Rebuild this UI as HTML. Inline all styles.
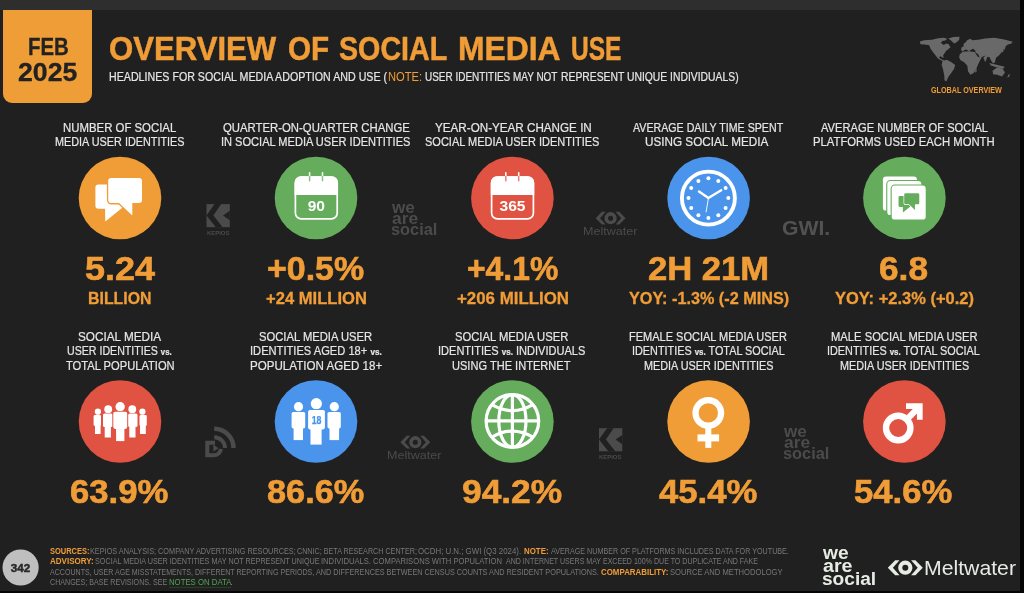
<!DOCTYPE html>
<html lang="en">
<head>
<meta charset="utf-8">
<title>Overview of Social Media Use - Feb 2025</title>
<style>
html,body{margin:0;padding:0;background:#050505;}
body{width:1024px;height:593px;overflow:hidden;position:relative;font-family:"Liberation Sans",Arial,sans-serif;}
#slide{filter:blur(0.4px);position:absolute;left:0;top:0;width:1020.4px;height:591px;background:#202020;overflow:hidden;}
#topbar{position:absolute;left:0;top:0;width:1020.4px;height:9.6px;background:#2e2e2e;}
#badge{position:absolute;left:2.6px;top:9.6px;width:89.8px;height:93.1px;background:#ef9d36;border-radius:0 0 9px 9px;}
#art{position:absolute;left:0;top:0;will-change:transform;}
#txt{position:absolute;left:0;top:0;width:1024px;height:593px;will-change:transform;}
#txt h1,#txt h2,#txt p{margin:0;padding:0;font:inherit;}
.t{display:block;position:absolute;white-space:nowrap;line-height:1;transform-origin:0 50%;font-family:"Liberation Sans",Arial,sans-serif;}
svg text{font-family:"Liberation Sans",Arial,sans-serif;}
</style>
</head>
<body>
<div id="slide">
<div id="topbar"></div>
<div id="badge"></div>
<svg id="art" width="1024" height="593" viewBox="0 0 1024 593">
<!-- ===== circles ===== -->
<g>
<circle cx="120" cy="198" r="41.3" fill="#f09d37"/>
<circle cx="316" cy="198" r="41.3" fill="#65ad5c"/>
<circle cx="512.4" cy="198" r="41.3" fill="#e05241"/>
<circle cx="708.6" cy="198" r="41.3" fill="#4a94ec"/>
<circle cx="904.4" cy="198" r="41.3" fill="#65ad5c"/>
<circle cx="120" cy="421.5" r="41.3" fill="#e05241"/>
<circle cx="316" cy="421.5" r="41.3" fill="#4a94ec"/>
<circle cx="512.4" cy="421.5" r="41.3" fill="#65ad5c"/>
<circle cx="708.6" cy="421.5" r="41.3" fill="#f09d37"/>
<circle cx="904.4" cy="421.5" r="41.3" fill="#e05241"/>
</g>

<!-- ===== icon 1: chat bubbles ===== -->
<g transform="translate(120,198)" fill="#fff">
  <path d="M-24.6,-10.5 a3,3 0 0 1 3,-3 H2 V10 L-14.7,23.6 L-15,10.8 H-21.6 a3,3 0 0 1 -3,-3z"/>
  <path d="M-8.8,-20 H19 a3,3 0 0 1 3,3 V2.1 a3,3 0 0 1 -3,3 H12.3 V17.6 L-1,5.1 H-8.8 a3,3 0 0 1 -3,-3 V-17 a3,3 0 0 1 3,-3z" stroke="#f09d37" stroke-width="2.6" style="paint-order:stroke"/>
</g>

<!-- ===== icon 2: calendar 90 ===== -->
<g transform="translate(316.3,198)">
  <rect x="-20.9" y="-20.9" width="41.8" height="41.8" rx="5.8" fill="none" stroke="#fff" stroke-width="1.7"/>
  <path d="M-21.75,-3.1 v-12.3 a6.4,6.4 0 0 1 6.4,-6.4 h30.7 a6.4,6.4 0 0 1 6.4,6.4 v12.3z" fill="#fff"/>
  <path d="M-6.7,-25.3 v4 M6.2,-25.3 v4" stroke="#fff" stroke-width="1.6" stroke-linecap="round"/>
  <path d="M-6.7,-21.4 v4.2 M6.2,-21.4 v4.2" stroke="#65ad5c" stroke-width="1.5" stroke-linecap="round" opacity="0.75"/>
  <text x="0" y="13.3" font-size="14.6" font-weight="700" fill="#fff" text-anchor="middle" textLength="17.3" lengthAdjust="spacingAndGlyphs">90</text>
</g>

<!-- ===== icon 3: calendar 365 ===== -->
<g transform="translate(512.5,198)">
  <rect x="-20.9" y="-20.9" width="41.8" height="41.8" rx="5.8" fill="none" stroke="#fff" stroke-width="1.7"/>
  <path d="M-21.75,-3.1 v-12.3 a6.4,6.4 0 0 1 6.4,-6.4 h30.7 a6.4,6.4 0 0 1 6.4,6.4 v12.3z" fill="#fff"/>
  <path d="M-6.7,-25.3 v4 M6.2,-25.3 v4" stroke="#fff" stroke-width="1.6" stroke-linecap="round"/>
  <path d="M-6.7,-21.4 v4.2 M6.2,-21.4 v4.2" stroke="#e05241" stroke-width="1.5" stroke-linecap="round" opacity="0.75"/>
  <text x="0" y="13.3" font-size="14.6" font-weight="700" fill="#fff" text-anchor="middle" textLength="26" lengthAdjust="spacingAndGlyphs">365</text>
</g>

<!-- ===== icon 4: clock ===== -->
<g transform="translate(708.4,198.1)">
  <circle r="26.5" fill="none" stroke="#fff" stroke-width="3.9"/>
  <g fill="#fff"><circle cx="0.0" cy="-19.9" r="2"/><circle cx="9.9" cy="-17.2" r="2"/><circle cx="17.2" cy="-10.0" r="2"/><circle cx="19.9" cy="-0.0" r="2"/><circle cx="17.2" cy="9.9" r="2"/><circle cx="9.9" cy="17.2" r="2"/><circle cx="0.0" cy="19.9" r="2"/><circle cx="-10.0" cy="17.2" r="2"/><circle cx="-17.2" cy="10.0" r="2"/><circle cx="-19.9" cy="0.0" r="2"/><circle cx="-17.2" cy="-10.0" r="2"/><circle cx="-10.0" cy="-17.2" r="2"/></g>
  <path d="M-9.4,-6.6 L0,0 L12.8,-7.8" fill="none" stroke="#fff" stroke-width="2.4" stroke-linecap="round" stroke-linejoin="round"/>
  <path d="M0,0 L-2.3,13.8" stroke="#fff" stroke-width="0.9" stroke-linecap="round"/>
</g>

<!-- ===== icon 5: stacked cards ===== -->
<g transform="translate(904.4,198)">
  <rect x="-21.5" y="-21.4" width="34" height="34" rx="3.2" fill="#fff"/>
  <rect x="-17.1" y="-16.9" width="34" height="34" rx="3.2" fill="#fff" stroke="#65ad5c" stroke-width="2.2" style="paint-order:stroke"/>
  <rect x="-12.7" y="-12.4" width="34" height="34" rx="3.2" fill="#fff" stroke="#65ad5c" stroke-width="2.2" style="paint-order:stroke"/>
  <g fill="#65ad5c" transform="translate(5.08,4.1) scale(0.445)">
    <path d="M-24.6,-10.5 a3,3 0 0 1 3,-3 H2 V10 L-14.7,23.6 L-15,10.8 H-21.6 a3,3 0 0 1 -3,-3z"/>
    <path d="M-8.8,-20 H19 a3,3 0 0 1 3,3 V2.1 a3,3 0 0 1 -3,3 H12.3 V17.6 L-1,5.1 H-8.8 a3,3 0 0 1 -3,-3 V-17 a3,3 0 0 1 3,-3z" stroke="#fff" stroke-width="3" style="paint-order:stroke"/>
  </g>
</g>

<!-- ===== icon 6: five people ===== -->
<g transform="translate(120,421.5)" fill="#fff">
  <circle cx="-22.1" cy="-9.8" r="3.1"/><rect x="-26.4" y="-6.4" width="7.4" height="10.8" rx="1.3"/><rect x="-25" y="2" width="5.6" height="10.5"/>
  <circle cx="22.4" cy="-9.8" r="3.1"/><rect x="19.5" y="-6.4" width="7.3" height="10.8" rx="1.3"/><rect x="20" y="2" width="5.8" height="10.5"/>
  <circle cx="-11.8" cy="-12.3" r="3.9"/><rect x="-17" y="-8" width="9.6" height="13.4" rx="1.5"/><rect x="-15.3" y="3" width="6.2" height="13"/>
  <circle cx="12.3" cy="-12.3" r="3.9"/><rect x="8.2" y="-8" width="9.3" height="13.4" rx="1.5"/><rect x="9.3" y="3" width="6.2" height="13"/>
  <circle cx="0.15" cy="-14.8" r="4.7"/><rect x="-6.7" y="-9.8" width="13.9" height="17.2" rx="1.8" stroke="#e05241" stroke-width="1.6" style="paint-order:stroke"/><rect x="-3.9" y="5" width="8.3" height="14.6"/>
</g>

<!-- ===== icon 7: three people 18 ===== -->
<g transform="translate(316,421.5)" fill="#fff">
  <circle cx="-17.5" cy="-14.8" r="4.6"/><rect x="-24.4" y="-9.5" width="13.6" height="16.4" rx="1.6"/><rect x="-22.4" y="5" width="9.4" height="13.6"/>
  <circle cx="18.3" cy="-14.8" r="4.6"/><rect x="11.5" y="-9.5" width="13.3" height="16.4" rx="1.6"/><rect x="13.5" y="5" width="9.6" height="13.6"/>
  <circle cx="0.35" cy="-17.8" r="5.6"/><rect x="-7.9" y="-11.5" width="16.8" height="19.4" rx="1.8" stroke="#4a94ec" stroke-width="1.6" style="paint-order:stroke"/><rect x="-5.5" y="6" width="11.1" height="17.1"/>
  <text x="-4.3" y="2.3" font-size="10.4" font-weight="700" fill="#4a94ec" stroke="#4a94ec" stroke-width="0.25" textLength="9.8" lengthAdjust="spacingAndGlyphs">18</text>
</g>

<!-- ===== icon 8: globe ===== -->
<g transform="translate(512.4,420.9)" fill="none" stroke="#fff" stroke-width="3.2">
  <circle r="26.3"/>
  <ellipse rx="13.6" ry="26.3"/>
  <path d="M0,-26.3 V26.3 M-26.3,0 H26.3"/>
  <path d="M-20.5,-16.2 Q0,-4.2 20.5,-16.2 M-20.5,16.2 Q0,4.2 20.5,16.2"/>
</g>

<!-- ===== icon 9: female ===== -->
<g transform="translate(708.3,421.5)" fill="none" stroke="#fff">
  <circle cx="0" cy="-8.6" r="12.8" stroke-width="6.2"/>
  <path d="M0,6.5 V26.4" stroke-width="6"/>
  <path d="M-10.8,16.4 H10.8" stroke-width="7"/>
</g>

<!-- ===== icon 10: male ===== -->
<g transform="translate(904.4,421.5)" fill="none" stroke="#fff">
  <circle cx="-6.2" cy="6.5" r="12.2" stroke-width="6.4"/>
  <path d="M2.2,-1.9 L15,-14.8" stroke-width="6.2"/>
  <path d="M1.6,-15.4 H15.4 V-1.7" stroke-width="5.7" stroke-linejoin="miter"/>
</g>

<!-- ===== page number ===== -->
<circle cx="20.6" cy="567.5" r="18.1" fill="#bfbfbf"/>
<text x="20.5" y="571.6" font-size="11" font-weight="700" fill="#2a2a2a" stroke="#2a2a2a" stroke-width="0.45" text-anchor="middle" textLength="19.5" lengthAdjust="spacingAndGlyphs">342</text>

<!-- ===== Kepios logos ===== -->
<g id="kepios1" transform="translate(206.5,204.1)">
  <rect width="23.3" height="23.1" fill="#4b4b4b"/>
  <path d="M8.1,0 L14.6,0 L6.9,11.4 L16.2,23.1 L9.3,23.1 L0,11.4z M23.3,6.7 L16.6,11.4 L23.3,16.1z" fill="#202020"/>
</g>
<g id="kepios2" transform="translate(599,428.2)">
  <rect width="23.3" height="23.1" fill="#4b4b4b"/>
  <path d="M8.1,0 L14.6,0 L6.9,11.4 L16.2,23.1 L9.3,23.1 L0,11.4z M23.3,6.7 L16.6,11.4 L23.3,16.1z" fill="#202020"/>
</g>

<!-- ===== Meltwater small (row 1) ===== -->
<g transform="translate(610.6,218.2)"><circle r="4.34" fill="none" stroke="#4b4b4b" stroke-width="3.55"/><polygon points="-14.96,0.00 -8.64,-6.41 -4.96,-6.41 -10.60,0.00 -4.96,6.41 -8.64,6.41" fill="#4b4b4b"/><polygon points="14.96,0.00 8.64,-6.41 4.96,-6.41 10.60,0.00 4.96,6.41 8.64,6.41" fill="#4b4b4b"/></g>
<!-- ===== Meltwater small (row 2) ===== -->
<g transform="translate(415.3,442.2)"><circle r="4.34" fill="none" stroke="#4b4b4b" stroke-width="3.55"/><polygon points="-14.96,0.00 -8.64,-6.41 -4.96,-6.41 -10.60,0.00 -4.96,6.41 -8.64,6.41" fill="#4b4b4b"/><polygon points="14.96,0.00 8.64,-6.41 4.96,-6.41 10.60,0.00 4.96,6.41 8.64,6.41" fill="#4b4b4b"/></g>
<!-- ===== Meltwater footer ===== -->
<g transform="translate(905.3,567.7)"><circle r="5.08" fill="none" stroke="#e6ece4" stroke-width="4.15"/><polygon points="-17.50,0.00 -10.10,-7.50 -5.80,-7.50 -12.40,0.00 -5.80,7.50 -10.10,7.50" fill="#e6ece4"/><polygon points="17.50,0.00 10.10,-7.50 5.80,-7.50 12.40,0.00 5.80,7.50 10.10,7.50" fill="#e6ece4"/></g>

<!-- ===== DataReportal icon ===== -->
<g fill="none" stroke="#4b4b4b">
  <path d="M215,442.7 H207.3 V455.3 H214.2 A6.6,6.6 0 0 0 220.8,448.9" stroke-width="4"/>
  <path d="M214.2,437.2 A10.8,10.8 0 0 1 225,448" stroke-width="4"/>
  <path d="M214.2,428.7 A19.3,19.3 0 0 1 233.5,448" stroke-width="4.5"/>
</g>
<path d="M213.4,444.6 L218.4,448.3 L213.4,451.6z" fill="#4b4b4b"/>

<!-- ===== world map ===== -->
<g transform="translate(912,28) scale(0.12136)" fill="#696969">
  <path d="M65,112 L100,100 L165,96 L215,84 L262,80 L290,88 L275,104 L250,108 L238,124 L262,140 L282,128 L300,132 L318,158 L298,176 L280,190 L268,208 L256,226 L262,246 L250,244 L236,232 L222,240 L240,258 L262,266 L276,276 L262,276 L238,266 L214,252 L196,228 L172,198 L152,168 L142,142 L104,136 L70,134z"/>
  <path d="M300,86 L340,74 L392,72 L388,98 L362,122 L346,128 L326,108z"/>
  <path d="M252,272 L286,262 L322,280 L356,304 L346,338 L322,372 L300,402 L284,438 L268,432 L266,392 L256,342 L244,302z"/>
  <path d="M404,182 L408,160 L426,150 L424,134 L442,120 L452,102 L478,88 L500,100 L540,96 L560,150 L560,200 L530,196 L505,172 L486,180 L470,192 L448,178 L428,184 L420,196z"/>
  <path d="M394,216 L418,196 L470,192 L516,198 L542,236 L572,246 L550,288 L532,330 L508,370 L482,386 L462,358 L456,312 L430,282 L400,266 L388,240z"/>
  <path d="M536,98 L600,86 L680,80 L760,94 L830,114 L816,130 L790,136 L772,150 L764,180 L748,168 L738,200 L716,226 L692,246 L684,282 L668,292 L650,266 L640,240 L622,236 L604,282 L588,246 L606,226 L580,236 L562,252 L546,216 L520,200 L545,150z"/>
  <path d="M636,288 L680,298 L722,308 L764,320 L752,336 L702,326 L650,310z"/>
  <path d="M664,352 L700,326 L746,334 L766,366 L742,400 L702,386 L668,382z"/>
  <path d="M792,388 L806,378 L802,400 L786,412z"/>
  <path d="M742,168 L758,158 L752,196 L738,202z"/>
  <path d="M428,130 L440,118 L444,146 L430,152z"/>
  <path d="M524,338 L534,332 L530,364 L518,366z"/>
</g>
<!-- notes underline -->
<path d="M169.6,587.4 H230.6" stroke="#3f7f3f" stroke-width="0.7" stroke-dasharray="1,1"/>

</svg>
<div id="txt">
<header>
<div class="date">
<span class="t" style="left:27.55px;top:35.27px;font-size:24.06px;font-weight:700;color:#222;-webkit-text-stroke:0.3px #222;transform:scaleX(0.8500)">FEB</span>
<span class="t" style="left:17.54px;top:59.89px;font-size:25.22px;font-weight:700;color:#222;-webkit-text-stroke:0.3px #222;transform:scaleX(1.0564)">2025</span>
</div>
<h1 class="title">
<span class="t" style="left:109.35px;top:32.64px;font-size:32.61px;font-weight:700;color:#f09d37;-webkit-text-stroke:0.5px #f09d37;transform:scaleX(0.9543)">OVERVIEW</span>
<span class="t" style="left:288.09px;top:32.64px;font-size:32.61px;font-weight:700;color:#f09d37;-webkit-text-stroke:0.5px #f09d37;transform:scaleX(0.9070)">OF</span>
<span class="t" style="left:339.42px;top:32.64px;font-size:32.61px;font-weight:700;color:#f09d37;-webkit-text-stroke:0.5px #f09d37;transform:scaleX(0.8787)">SOCIAL</span>
<span class="t" style="left:458.05px;top:32.64px;font-size:32.61px;font-weight:700;color:#f09d37;-webkit-text-stroke:0.5px #f09d37;transform:scaleX(0.9767)">MEDIA</span>
<span class="t" style="left:571.00px;top:32.64px;font-size:32.61px;font-weight:700;color:#f09d37;-webkit-text-stroke:0.5px #f09d37;transform:scaleX(0.7516)">USE</span>
</h1>
<p class="subtitle">
<span class="t" style="left:109.37px;top:70.72px;font-size:12.17px;font-weight:400;color:#e6e6e6;-webkit-text-stroke:0.22px #e6e6e6;transform:scaleX(0.8771)">HEADLINES FOR SOCIAL MEDIA ADOPTION AND USE (</span>
<span class="t" style="left:388.08px;top:70.72px;font-size:12.17px;font-weight:400;color:#f09d37;transform:scaleX(0.9200)">NOTE:</span>
<span class="t" style="left:424.78px;top:70.72px;font-size:12.17px;font-weight:400;color:#e6e6e6;-webkit-text-stroke:0.22px #e6e6e6;transform:scaleX(0.8193)">USER IDENTITIES MAY NOT</span>
<span class="t" style="left:561.35px;top:70.72px;font-size:12.17px;font-weight:400;color:#e6e6e6;-webkit-text-stroke:0.22px #e6e6e6;transform:scaleX(0.8517)">REPRESENT UNIQUE INDIVIDUALS)</span>
</p>
<div class="region">
<span class="t" style="left:930.50px;top:86.45px;font-size:8.7px;font-weight:700;color:#f09d37;transform:scaleX(0.8279)">GLOBAL OVERVIEW</span>
</div>
</header>
<main>
<section class="card">
<h2 class="label">
<span class="t" style="left:63.23px;top:120.68px;font-size:13.04px;font-weight:400;color:#e6e6e6;-webkit-text-stroke:0.22px #e6e6e6;transform:scaleX(0.8742)">NUMBER OF SOCIAL</span>
<span class="t" style="left:55.42px;top:135.08px;font-size:13.04px;font-weight:400;color:#e6e6e6;-webkit-text-stroke:0.22px #e6e6e6;transform:scaleX(0.8321)">MEDIA USER IDENTITIES</span>
</h2>
<div class="value">
<span class="t" style="left:85.02px;top:252.14px;font-size:33.33px;font-weight:700;color:#f09d37;-webkit-text-stroke:0.6px #f09d37;transform:scaleX(1.0797)">5.24</span>
</div>
<div class="unit">
<span class="t" style="left:87.84px;top:290.54px;font-size:16.52px;font-weight:700;color:#f09d37;-webkit-text-stroke:0.3px #f09d37;transform:scaleX(0.9615)">BILLION</span>
</div>
</section>
<section class="card">
<h2 class="label">
<span class="t" style="left:222.80px;top:120.68px;font-size:13.04px;font-weight:400;color:#e6e6e6;-webkit-text-stroke:0.22px #e6e6e6;transform:scaleX(0.8706)">QUARTER-ON-QUARTER CHANGE</span>
<span class="t" style="left:220.75px;top:135.08px;font-size:13.04px;font-weight:400;color:#e6e6e6;-webkit-text-stroke:0.22px #e6e6e6;transform:scaleX(0.8482)">IN SOCIAL MEDIA USER IDENTITIES</span>
</h2>
<div class="value">
<span class="t" style="left:267.48px;top:252.14px;font-size:33.33px;font-weight:700;color:#f09d37;-webkit-text-stroke:0.6px #f09d37;transform:scaleX(1.0181)">+0.5%</span>
</div>
<div class="unit">
<span class="t" style="left:265.80px;top:290.54px;font-size:16.52px;font-weight:700;color:#f09d37;-webkit-text-stroke:0.3px #f09d37;transform:scaleX(1.0040)">+24 MILLION</span>
</div>
</section>
<section class="card">
<h2 class="label">
<span class="t" style="left:434.80px;top:120.68px;font-size:13.04px;font-weight:400;color:#e6e6e6;-webkit-text-stroke:0.22px #e6e6e6;transform:scaleX(0.8948)">YEAR-ON-YEAR CHANGE IN</span>
<span class="t" style="left:424.76px;top:135.08px;font-size:13.04px;font-weight:400;color:#e6e6e6;-webkit-text-stroke:0.22px #e6e6e6;transform:scaleX(0.8444)">SOCIAL MEDIA USER IDENTITIES</span>
</h2>
<div class="value">
<span class="t" style="left:466.84px;top:252.14px;font-size:33.33px;font-weight:700;color:#f09d37;-webkit-text-stroke:0.6px #f09d37;transform:scaleX(0.9564)">+4.1%</span>
</div>
<div class="unit">
<span class="t" style="left:456.90px;top:290.54px;font-size:16.52px;font-weight:700;color:#f09d37;-webkit-text-stroke:0.3px #f09d37;transform:scaleX(1.0211)">+206 MILLION</span>
</div>
</section>
<section class="card">
<h2 class="label">
<span class="t" style="left:633.40px;top:120.68px;font-size:13.04px;font-weight:400;color:#e6e6e6;-webkit-text-stroke:0.22px #e6e6e6;transform:scaleX(0.8174)">AVERAGE DAILY TIME SPENT</span>
<span class="t" style="left:645.40px;top:135.08px;font-size:13.04px;font-weight:400;color:#e6e6e6;-webkit-text-stroke:0.22px #e6e6e6;transform:scaleX(0.8993)">USING SOCIAL MEDIA</span>
</h2>
<div class="value">
<span class="t" style="left:647.96px;top:252.14px;font-size:33.33px;font-weight:700;color:#f09d37;-webkit-text-stroke:0.6px #f09d37;transform:scaleX(1.0386)">2H 21M</span>
</div>
<div class="unit">
<span class="t" style="left:628.75px;top:290.54px;font-size:16.52px;font-weight:700;color:#f09d37;-webkit-text-stroke:0.3px #f09d37;transform:scaleX(0.9825)">YOY: -1.3% (-2 MINS)</span>
</div>
</section>
<section class="card">
<h2 class="label">
<span class="t" style="left:821.20px;top:120.68px;font-size:13.04px;font-weight:400;color:#e6e6e6;-webkit-text-stroke:0.22px #e6e6e6;transform:scaleX(0.8554)">AVERAGE NUMBER OF SOCIAL</span>
<span class="t" style="left:813.23px;top:135.08px;font-size:13.04px;font-weight:400;color:#e6e6e6;-webkit-text-stroke:0.22px #e6e6e6;transform:scaleX(0.8659)">PLATFORMS USED EACH MONTH</span>
</h2>
<div class="value">
<span class="t" style="left:878.74px;top:252.14px;font-size:33.33px;font-weight:700;color:#f09d37;-webkit-text-stroke:0.6px #f09d37;transform:scaleX(1.0578)">6.8</span>
</div>
<div class="unit">
<span class="t" style="left:834.80px;top:290.54px;font-size:16.52px;font-weight:700;color:#f09d37;-webkit-text-stroke:0.3px #f09d37;transform:scaleX(0.9978)">YOY: +2.3% (+0.2)</span>
</div>
</section>
<section class="card">
<h2 class="label">
<span class="t" style="left:78.10px;top:329.78px;font-size:13.04px;font-weight:400;color:#e6e6e6;-webkit-text-stroke:0.22px #e6e6e6;transform:scaleX(0.9011)">SOCIAL MEDIA</span>
<span class="t" style="left:67.29px;top:344.28px;font-size:13.04px;font-weight:400;color:#e6e6e6;-webkit-text-stroke:0.22px #e6e6e6;transform:scaleX(0.8150)">USER IDENTITIES <span style="font-size:.73em;font-weight:700">vs.</span></span>
<span class="t" style="left:66.20px;top:358.78px;font-size:13.04px;font-weight:400;color:#e6e6e6;-webkit-text-stroke:0.22px #e6e6e6;transform:scaleX(0.8556)">TOTAL POPULATION</span>
</h2>
<div class="value">
<span class="t" style="left:70.21px;top:475.24px;font-size:33.33px;font-weight:700;color:#f09d37;-webkit-text-stroke:0.6px #f09d37;transform:scaleX(1.0414)">63.9%</span>
</div>
</section>
<section class="card">
<h2 class="label">
<span class="t" style="left:259.14px;top:329.78px;font-size:13.04px;font-weight:400;color:#e6e6e6;-webkit-text-stroke:0.22px #e6e6e6;transform:scaleX(0.8615)">SOCIAL MEDIA USER</span>
<span class="t" style="left:250.15px;top:344.28px;font-size:13.04px;font-weight:400;color:#e6e6e6;-webkit-text-stroke:0.22px #e6e6e6;transform:scaleX(0.8549)">IDENTITIES AGED 18+ <span style="font-size:.73em;font-weight:700">vs.</span></span>
<span class="t" style="left:250.11px;top:358.78px;font-size:13.04px;font-weight:400;color:#e6e6e6;-webkit-text-stroke:0.22px #e6e6e6;transform:scaleX(0.8898)">POPULATION AGED 18+</span>
</h2>
<div class="value">
<span class="t" style="left:267.47px;top:475.24px;font-size:33.33px;font-weight:700;color:#f09d37;-webkit-text-stroke:0.6px #f09d37;transform:scaleX(1.0290)">86.6%</span>
</div>
</section>
<section class="card">
<h2 class="label">
<span class="t" style="left:455.14px;top:329.78px;font-size:13.04px;font-weight:400;color:#e6e6e6;-webkit-text-stroke:0.22px #e6e6e6;transform:scaleX(0.8631)">SOCIAL MEDIA USER</span>
<span class="t" style="left:438.45px;top:344.28px;font-size:13.04px;font-weight:400;color:#e6e6e6;-webkit-text-stroke:0.22px #e6e6e6;transform:scaleX(0.8468)">IDENTITIES <span style="font-size:.73em;font-weight:700">vs.</span> INDIVIDUALS</span>
<span class="t" style="left:452.15px;top:358.78px;font-size:13.04px;font-weight:400;color:#e6e6e6;-webkit-text-stroke:0.22px #e6e6e6;transform:scaleX(0.8489)">USING THE INTERNET</span>
</h2>
<div class="value">
<span class="t" style="left:461.64px;top:475.24px;font-size:33.33px;font-weight:700;color:#f09d37;-webkit-text-stroke:0.6px #f09d37;transform:scaleX(1.0591)">94.2%</span>
</div>
</section>
<section class="card">
<h2 class="label">
<span class="t" style="left:629.16px;top:329.78px;font-size:13.04px;font-weight:400;color:#e6e6e6;-webkit-text-stroke:0.22px #e6e6e6;transform:scaleX(0.8441)">FEMALE SOCIAL MEDIA USER</span>
<span class="t" style="left:631.87px;top:344.28px;font-size:13.04px;font-weight:400;color:#e6e6e6;-webkit-text-stroke:0.22px #e6e6e6;transform:scaleX(0.8322)">IDENTITIES <span style="font-size:.73em;font-weight:700">vs.</span> TOTAL SOCIAL</span>
<span class="t" style="left:643.57px;top:358.78px;font-size:13.04px;font-weight:400;color:#e6e6e6;-webkit-text-stroke:0.22px #e6e6e6;transform:scaleX(0.8318)">MEDIA USER IDENTITIES</span>
</h2>
<div class="value">
<span class="t" style="left:659.00px;top:475.24px;font-size:33.33px;font-weight:700;color:#f09d37;-webkit-text-stroke:0.6px #f09d37;transform:scaleX(1.0415)">45.4%</span>
</div>
</section>
<section class="card">
<h2 class="label">
<span class="t" style="left:831.14px;top:329.78px;font-size:13.04px;font-weight:400;color:#e6e6e6;-webkit-text-stroke:0.22px #e6e6e6;transform:scaleX(0.8604)">MALE SOCIAL MEDIA USER</span>
<span class="t" style="left:827.37px;top:344.28px;font-size:13.04px;font-weight:400;color:#e6e6e6;-webkit-text-stroke:0.22px #e6e6e6;transform:scaleX(0.8322)">IDENTITIES <span style="font-size:.73em;font-weight:700">vs.</span> TOTAL SOCIAL</span>
<span class="t" style="left:839.87px;top:358.78px;font-size:13.04px;font-weight:400;color:#e6e6e6;-webkit-text-stroke:0.22px #e6e6e6;transform:scaleX(0.8292)">MEDIA USER IDENTITIES</span>
</h2>
<div class="value">
<span class="t" style="left:854.26px;top:475.24px;font-size:33.33px;font-weight:700;color:#f09d37;-webkit-text-stroke:0.6px #f09d37;transform:scaleX(1.0398)">54.6%</span>
</div>
</section>
</main>
<aside class="partners">
<div class="logo">
<span class="t" style="left:206.90px;top:229.83px;font-size:6.0px;font-weight:700;color:#4b4b4b;transform:scaleX(0.9870)">KEPIOS</span>
</div>
<div class="logo">
<span class="t" style="left:392.10px;top:199.14px;font-size:16.4px;font-weight:700;color:#4b4b4b;transform:scaleX(1.0429)">we</span>
<span class="t" style="left:392.10px;top:209.74px;font-size:16.4px;font-weight:700;color:#4b4b4b;transform:scaleX(1.0625)">are</span>
<span class="t" style="left:391.10px;top:220.84px;font-size:16.4px;font-weight:700;color:#4b4b4b;transform:scaleX(0.9978)">social</span>
</div>
<div class="logo">
<span class="t" style="left:582.72px;top:225.30px;font-size:11.6px;font-weight:400;color:#4b4b4b;transform:scaleX(1.0837)">Meltwater</span>
</div>
<div class="logo">
<span class="t" style="left:782.46px;top:217.76px;font-size:20.4px;font-weight:700;color:#525252;transform:scaleX(1.0386)">GWI.</span>
</div>
<div class="logo">
<span class="t" style="left:387.32px;top:449.30px;font-size:11.6px;font-weight:400;color:#4b4b4b;transform:scaleX(1.0837)">Meltwater</span>
</div>
<div class="logo">
<span class="t" style="left:599.40px;top:453.93px;font-size:6.0px;font-weight:700;color:#4b4b4b;transform:scaleX(0.9870)">KEPIOS</span>
</div>
<div class="logo">
<span class="t" style="left:784.10px;top:423.34px;font-size:16.4px;font-weight:700;color:#4b4b4b;transform:scaleX(1.0429)">we</span>
<span class="t" style="left:784.10px;top:434.04px;font-size:16.4px;font-weight:700;color:#4b4b4b;transform:scaleX(1.0625)">are</span>
<span class="t" style="left:783.10px;top:445.14px;font-size:16.4px;font-weight:700;color:#4b4b4b;transform:scaleX(0.9978)">social</span>
</div>
</aside>
<footer>
<p class="note">
<span class="t" style="left:49.50px;top:546.78px;font-size:8.55px;font-weight:700;color:#f09d37;transform:scaleX(0.8756)">SOURCES:</span>
<span class="t" style="left:90.05px;top:546.78px;font-size:8.55px;font-weight:400;color:#787878;transform:scaleX(0.8548)">KEPIOS ANALYSIS; COMPANY ADVERTISING RESOURCES;</span>
<span class="t" style="left:297.00px;top:546.78px;font-size:8.55px;font-weight:400;color:#787878;transform:scaleX(0.8401)">CNNIC; BETA RESEARCH CENTER;</span>
<span class="t" style="left:418.00px;top:546.78px;font-size:8.55px;font-weight:400;color:#787878;transform:scaleX(0.9196)">OCDH; U.N.; GWI (Q3 2024).</span>
<span class="t" style="left:524.30px;top:546.78px;font-size:8.55px;font-weight:700;color:#f09d37;transform:scaleX(0.9231)">NOTE:</span>
<span class="t" style="left:551.30px;top:546.78px;font-size:8.55px;font-weight:400;color:#787878;transform:scaleX(0.8385)">AVERAGE NUMBER OF PLATFORMS INCLUDES DATA FOR YOUTUBE.</span>
</p>
<p class="note">
<span class="t" style="left:49.50px;top:557.28px;font-size:8.55px;font-weight:700;color:#f09d37;transform:scaleX(0.9391)">ADVISORY:</span>
<span class="t" style="left:95.16px;top:557.28px;font-size:8.55px;font-weight:400;color:#787878;transform:scaleX(0.8445)">SOCIAL MEDIA USER IDENTITIES MAY NOT REPRESENT UNIQUE</span>
<span class="t" style="left:320.71px;top:557.28px;font-size:8.55px;font-weight:400;color:#787878;transform:scaleX(0.8920)">INDIVIDUALS. COMPARISONS WITH POPULATION</span>
<span class="t" style="left:506.40px;top:557.28px;font-size:8.55px;font-weight:400;color:#787878;transform:scaleX(0.8262)">AND INTERNET USERS MAY EXCEED 100% DUE TO DUPLICATE AND FAKE</span>
</p>
<p class="note">
<span class="t" style="left:49.50px;top:567.88px;font-size:8.55px;font-weight:400;color:#787878;transform:scaleX(0.8286)">ACCOUNTS, USER AGE MISSTATEMENTS, DIFFERENT REPORTING PERIODS,</span>
<span class="t" style="left:315.50px;top:567.88px;font-size:8.55px;font-weight:400;color:#787878;transform:scaleX(0.8493)">AND DIFFERENCES BETWEEN CENSUS COUNTS</span>
<span class="t" style="left:488.70px;top:567.88px;font-size:8.55px;font-weight:400;color:#787878;transform:scaleX(0.8555)">AND RESIDENT POPULATIONS.</span>
<span class="t" style="left:601.00px;top:567.88px;font-size:8.55px;font-weight:700;color:#f09d37;transform:scaleX(0.9250)">COMPARABILITY:</span>
<span class="t" style="left:669.61px;top:567.88px;font-size:8.55px;font-weight:400;color:#787878;transform:scaleX(0.8912)">SOURCE AND METHODOLOGY</span>
</p>
<p class="note">
<span class="t" style="left:49.50px;top:578.08px;font-size:8.55px;font-weight:400;color:#787878;transform:scaleX(0.8343)">CHANGES; BASE REVISIONS. SEE</span>
<span class="t" style="left:168.69px;top:578.08px;font-size:8.55px;font-weight:400;color:#52a352;transform:scaleX(0.9104)">NOTES ON DATA</span>
<span class="t" style="left:229.60px;top:578.08px;font-size:8.55px;font-weight:400;color:#787878;transform:scaleX(1.3000)">.</span>
</p>
<div class="brand">
<span class="t" style="left:823.00px;top:543.99px;font-size:18.0px;font-weight:700;color:#e6ece4;transform:scaleX(1.0667)">we</span>
<span class="t" style="left:823.00px;top:556.79px;font-size:18.0px;font-weight:700;color:#e6ece4;transform:scaleX(1.0926)">are</span>
<span class="t" style="left:821.94px;top:569.89px;font-size:18.0px;font-weight:700;color:#e6ece4;transform:scaleX(1.0612)">social</span>
</div>
<div class="brand">
<span class="t" style="left:924.06px;top:558.12px;font-size:20.8px;font-weight:400;color:#e6ece4;transform:scaleX(1.0205)">Meltwater</span>
</div>
</footer>
</div>
</div>
</body>
</html>
